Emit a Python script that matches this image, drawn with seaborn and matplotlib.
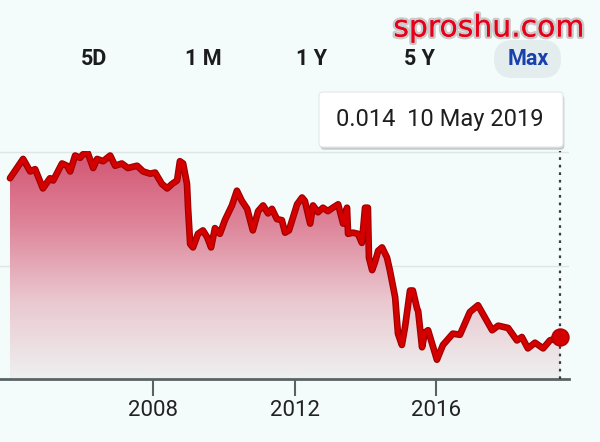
import numpy as np
import pandas as pd
import seaborn as sns
import matplotlib.pyplot as plt
from matplotlib import patheffects as pe
from matplotlib.patches import Polygon, FancyBboxPatch
from matplotlib.colors import LinearSegmentedColormap

# values (decimal year, rate)
years = [2003.96, 2004.33, 2004.53, 2004.67, 2004.89, 2005.09, 2005.18, 2005.43, 2005.57, 2005.66,
         2005.80, 2005.94, 2006.02, 2006.16, 2006.31, 2006.42, 2006.59, 2006.79, 2006.93, 2007.12,
         2007.29, 2007.55, 2007.72, 2007.92, 2008.06, 2008.25, 2008.40, 2008.54, 2008.68, 2008.76,
         2008.85, 2008.96, 2008.99, 2009.05, 2009.13, 2009.27, 2009.41, 2009.53, 2009.64, 2009.75,
         2009.89, 2010.03, 2010.23, 2010.37, 2010.51, 2010.66, 2010.82, 2010.97, 2011.11, 2011.25,
         2011.36, 2011.50, 2011.64, 2011.73, 2011.84, 2011.93, 2012.07, 2012.21, 2012.29, 2012.44,
         2012.52, 2012.66, 2012.80, 2012.94, 2013.08, 2013.23, 2013.37, 2013.48, 2013.51, 2013.65,
         2013.79, 2013.90, 2013.99, 2014.07, 2014.10, 2014.19, 2014.27, 2014.36, 2014.47, 2014.61,
         2014.69, 2014.84, 2014.92, 2015.03, 2015.12, 2015.26, 2015.34, 2015.46, 2015.49, 2015.60,
         2015.68, 2015.77, 2016.02, 2016.19, 2016.47, 2016.67, 2016.95, 2017.18, 2017.38, 2017.58,
         2017.75, 2018.03, 2018.28, 2018.42, 2018.59, 2018.79, 2019.02, 2019.21, 2019.50]
rates = [0.0277, 0.0294, 0.0283, 0.0285, 0.0268, 0.0277, 0.0275, 0.0290, 0.0288, 0.0283,
         0.0297, 0.0295, 0.0298, 0.0299, 0.0286, 0.0294, 0.0292, 0.0297, 0.0288, 0.0290,
         0.0286, 0.0288, 0.0283, 0.0281, 0.0282, 0.0272, 0.0268, 0.0272, 0.0275, 0.0292,
         0.0290, 0.0272, 0.0251, 0.0219, 0.0216, 0.0228, 0.0231, 0.0225, 0.0216, 0.0233,
         0.0228, 0.0240, 0.0253, 0.0266, 0.0257, 0.0250, 0.0231, 0.0248, 0.0253, 0.0246,
         0.0250, 0.0241, 0.0240, 0.0229, 0.0231, 0.0240, 0.0254, 0.0260, 0.0257, 0.0237,
         0.0253, 0.0247, 0.0251, 0.0248, 0.0251, 0.0254, 0.0237, 0.0251, 0.0228, 0.0229,
         0.0228, 0.0220, 0.0251, 0.0251, 0.0207, 0.0196, 0.0203, 0.0213, 0.0216, 0.0207,
         0.0196, 0.0172, 0.0140, 0.0130, 0.0146, 0.0178, 0.0178, 0.0162, 0.0160, 0.0128,
         0.0141, 0.0143, 0.0117, 0.0130, 0.0140, 0.0139, 0.0159, 0.0165, 0.0154, 0.0143,
         0.0147, 0.0145, 0.0134, 0.0137, 0.0127, 0.0132, 0.0127, 0.0134, 0.0137]
tick_years = [2008, 2012, 2016]
grid_levels = [0.01, 0.02, 0.03]
ranges = ["5D", "1 M", "1 Y", "5 Y", "Max"]
tooltip = "0.014  10 May 2019"
watermark = "sproshu.com"

sns.set_style("white")
plt.rcParams['font.family'] = ['Roboto', 'DejaVu Sans']

bg = '#f3fbfb'
W, H = 600, 442
fig = plt.figure(figsize=(6, 4.42), dpi=100, facecolor=bg)
# axes from the left edge to x=569px, spine at y=379px, top grid at y=151px
ax = fig.add_axes([0, (H - 379) / H, 569 / W, 228 / H])
ax.set_facecolor(bg)

x0, x1 = 2003.678, 2019.751
df = pd.DataFrame({"year": years, "rate": rates})

# gradient area under the line
poly = Polygon(np.column_stack([[years[0]] + years + [years[-1]],
                                [0.01] + rates + [0.01]]),
               closed=True, facecolor='none', edgecolor='none')
ax.add_patch(poly)
cmap = LinearSegmentedColormap.from_list('fade', ['#eef0f0', '#eac8d0', '#de8499', '#d2506f'])
grad = np.linspace(0, 1, 256).reshape(-1, 1)
im = ax.imshow(grad, cmap=cmap, aspect='auto', origin='lower',
               extent=[x0, x1, 0.01, 0.0305], zorder=1)
im.set_clip_path(poly)

sns.lineplot(data=df, x="year", y="rate", ax=ax, estimator=None, sort=False,
             color='#d40000', lw=3.2, zorder=4,
             path_effects=[pe.Stroke(linewidth=4.8, foreground='#9c0000'), pe.Normal()])
sns.scatterplot(x=[years[-1]], y=[rates[-1]], ax=ax, s=150, color='#d40000',
                edgecolor='#b00000', linewidth=1, zorder=5)
ax.axvline(years[-1], color='#3a3a3a', lw=1.6, ls=(0, (1.2, 2.2)), zorder=3)

ax.set_xlim(x0, x1)
ax.set_ylim(0.01, 0.0301)
ax.set_yticks(grid_levels)
ax.yaxis.grid(True, color='#dfe6e6', lw=1.0)
ax.tick_params(axis='y', left=False, labelleft=False)
ax.set_xticks(tick_years)
ax.set_xticklabels([str(y) for y in tick_years])
ax.tick_params(axis='x', bottom=True, length=12, width=1.5, color='#5a6363',
               labelsize=16, labelcolor='#222222', pad=3)
ax.set_xlabel("")
ax.set_ylabel("")
for side in ['top', 'left', 'right']:
    ax.spines[side].set_visible(False)
ax.spines['bottom'].set_color('#5a6363')
ax.spines['bottom'].set_linewidth(2)

# range buttons
btn_x = [94, 203, 312, 419, 528]
pill = FancyBboxPatch((4.94, (H - 78) / 100), 0.67, 0.38,
                      boxstyle="round,pad=0,rounding_size=0.19",
                      transform=fig.dpi_scale_trans, facecolor='#e3eded',
                      edgecolor='none')
fig.patches.append(pill)
for lab, bx in zip(ranges, btn_x):
    col = '#1a40ad' if lab == "Max" else '#1c1c1c'
    fig.text(bx / W, 1 - 59 / H, lab, ha='center', va='center', fontsize=15.5,
             fontweight='bold', color=col)

# tooltip box
box = FancyBboxPatch((3.19, (H - 147) / 100), 2.44, 0.55,
                     boxstyle="round,pad=0,rounding_size=0.04",
                     transform=fig.dpi_scale_trans, facecolor='white',
                     edgecolor='#e4e8e8', lw=0.8,
                     path_effects=[pe.SimplePatchShadow(offset=(1, -2), shadow_rgbFace='#9aa0a0', alpha=0.5),
                                   pe.Normal()])
fig.patches.append(box)
fig.text(440 / W, 1 - 120 / H, tooltip, ha='center', va='center', fontsize=17,
         color='#1e1e1e')

# watermark
fig.text(489 / W, 1 - 28 / H, watermark, ha='center', va='center', fontsize=21.5,
         family='DejaVu Sans', color='#e8001a',
         path_effects=[pe.withStroke(linewidth=3.5, foreground='#c9c9c9'), pe.Normal()])

fig.savefig('out.png', dpi=100, facecolor=bg)
